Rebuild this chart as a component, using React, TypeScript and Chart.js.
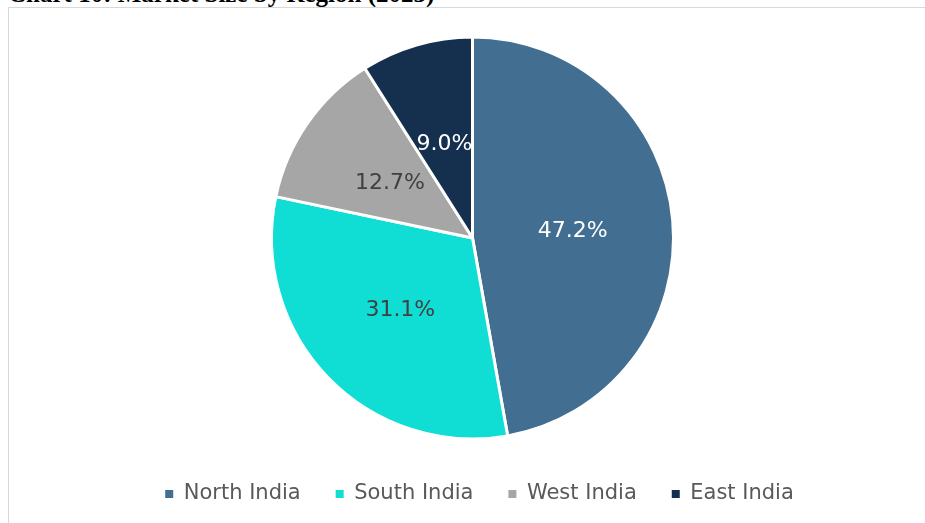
import React, { useEffect, useRef } from "react";
import { Chart, registerables } from "chart.js";

Chart.register(...registerables);

const TITLE = "Chart 10: Market Size by Region (2023)";
const regions = ["North India", "South India", "West India", "East India"];
const shares = [47.2, 31.1, 12.7, 9.0];
const sliceColors = ["#426E91", "#10DED5", "#A6A6A6", "#15304F"];
const labelColors = ["#FFFFFF", "#404040", "#404040", "#FFFFFF"];

const FONT = "'DejaVu Sans', Verdana, sans-serif";

const shiftArea = {
  id: "shiftArea",
  afterLayout(chart: any) {
    chart.chartArea.left -= 14;
    chart.chartArea.width += 14;
  },
};

const sliceLabels = {
  id: "sliceLabels",
  afterDatasetsDraw(chart: any) {
    const ctx = chart.ctx;
    const meta = chart.getDatasetMeta(0);
    ctx.save();
    ctx.font = `22px ${FONT}`;
    ctx.textAlign = "center";
    ctx.textBaseline = "middle";
    meta.data.forEach((arc: any, i: number) => {
      const p = arc.tooltipPosition();
      ctx.fillStyle = labelColors[i];
      ctx.fillText(shares[i].toFixed(1) + "%", p.x, p.y + 2.5);
    });
    ctx.restore();
  },
};

export default function App() {
  const ref = useRef<HTMLCanvasElement | null>(null);

  useEffect(() => {
    document.body.style.margin = "0";
    document.body.style.overflow = "hidden";
    if (!ref.current) return;
    const chart = new Chart(ref.current, {
      type: "pie",
      data: {
        labels: regions,
        datasets: [
          {
            data: shares,
            backgroundColor: sliceColors,
            borderColor: "#FFFFFF",
            borderWidth: 3,
            radius: 201,
            hoverOffset: 0,
          } as any,
        ],
      },
      options: {
        responsive: false,
        animation: false,
        events: [],
        layout: { padding: { top: 19.5, bottom: 8.5, left: 25, right: 0 } },
        plugins: {
          tooltip: { enabled: false },
          legend: {
            position: "bottom",
            labels: {
              boxWidth: 8,
              boxHeight: 8,
              padding: 35,
              color: "#595959",
              font: { family: FONT, size: 21 },
              generateLabels: () =>
                regions.map((r, i) => ({
                  text: r,
                  fillStyle: sliceColors[i],
                  strokeStyle: sliceColors[i],
                  lineWidth: 0,
                  hidden: false,
                  index: i,
                  fontColor: "#595959",
                })),
            },
          },
        },
      },
      plugins: [shiftArea, sliceLabels],
    });
    return () => chart.destroy();
  }, []);

  return (
    <div style={{ position: "relative", width: 925, height: 523, overflow: "hidden", background: "#fff" }}>
      <div
        style={{
          position: "absolute",
          left: 8,
          top: -19,
          fontFamily: "'Liberation Serif', 'Times New Roman', serif",
          fontWeight: "bold",
          fontSize: 25,
          lineHeight: "25px",
          whiteSpace: "nowrap",
          color: "#000",
        }}
      >
        {TITLE}
      </div>
      <div
        style={{
          position: "absolute",
          left: 8,
          top: 7,
          width: 940,
          height: 540,
          border: "1px solid #D9D9D9",
          boxSizing: "border-box",
        }}
      />
      <canvas
        ref={ref}
        width={916}
        height={515}
        style={{ position: "absolute", left: 9, top: 8, width: 916, height: 515 }}
      />
    </div>
  );
}
